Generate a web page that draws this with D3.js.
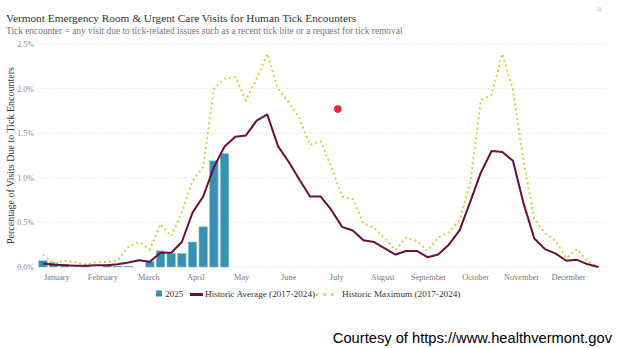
<!DOCTYPE html>
<html>
<head>
<meta charset="utf-8">
<script src="https://cdn.jsdelivr.net/npm/d3@7"></script>
<style>
  body { margin: 0; background: #fff; }
  text { font-family: "Liberation Serif", "DejaVu Serif", serif; }
</style>
</head>
<body>
<div id="chart"></div>
<script>
// Weekly share of ER / urgent care visits for tick encounters (%)
const visits2025 = [0.07, 0.05, 0.03, 0, 0.01, 0, 0.02, 0.01, 0.01, 0,
  0.06, 0.18, 0.15, 0.15, 0.28, 0.45, 1.19, 1.27];

const historicAverage = [0.04, 0.025, 0.02, 0.015, 0.015, 0.02, 0.02, 0.03, 0.05, 0.075,
  0.06, 0.16, 0.16, 0.28, 0.61, 0.79, 1.12, 1.35, 1.46, 1.475,
  1.64, 1.71, 1.355, 1.18, 0.98, 0.79, 0.79, 0.64, 0.45, 0.41,
  0.30, 0.28, 0.21, 0.14, 0.18, 0.18, 0.11, 0.14, 0.25, 0.41,
  0.73, 1.06, 1.30, 1.29, 1.19, 0.71, 0.32, 0.20, 0.15, 0.07,
  0.08, 0.03, 0.0];

const historicMaximum = [0.14, 0.04, 0.07, 0.055, 0.03, 0.055, 0.055, 0.075, 0.23, 0.28,
  0.195, 0.48, 0.345, 0.61, 0.97, 1.12, 2.0, 2.11, 2.13, 1.87,
  2.11, 2.39, 2.0, 1.85, 1.67, 1.37, 1.41, 1.12, 0.79, 0.76,
  0.49, 0.44, 0.32, 0.19, 0.33, 0.29, 0.18, 0.33, 0.39, 0.53,
  0.94, 1.87, 1.93, 2.39, 1.99, 1.18, 0.54, 0.38, 0.29, 0.10,
  0.20, 0.06, 0.0];

const months = ['January', 'February', 'March', 'April', 'May', 'June',
  'July', 'August', 'September', 'October', 'November', 'December'];
const monthWeek = [1.3, 5.6, 9.9, 14.3, 18.6, 23.0, 27.5, 31.8, 36.1, 40.5, 44.8, 49.2];

const yTicks = [0, 0.5, 1.0, 1.5, 2.0, 2.5];

// stray marker seen on the source chart
const marker = [{week: 27.6, value: 1.77}];

const width = 620, height = 348;
const svg = d3.select('#chart').append('svg')
    .attr('width', width)
    .attr('height', height);

const x = d3.scaleLinear()
    .domain([0, 52])
    .range([43, 598.4]);

const y = d3.scaleLinear()
    .domain([0, 2.5])
    .range([267, 44]);

const barW = 8.4;

// title block
svg.append('text')
    .attr('x', 6).attr('y', 22)
    .style('font-size', '11.3px')
    .style('fill', '#333')
    .text('Vermont Emergency Room & Urgent Care Visits for Human Tick Encounters');

svg.append('text')
    .attr('x', 6).attr('y', 34)
    .style('font-size', '9.4px')
    .style('fill', '#777')
    .text('Tick encounter = any visit due to tick-related issues such as a recent tick bite or a request for tick removal');

// small menu glyph top right
svg.append('g')
    .selectAll('line')
    .data([0, 1.4, 2.8])
    .enter().append('line')
      .attr('x1', 597).attr('x2', 602)
      .attr('y1', d => 8 + d).attr('y2', d => 8 + d)
      .style('stroke', '#c8c8c8')
      .style('stroke-width', 0.6);

// horizontal grid + y labels
const yAxis = svg.append('g')
    .attr('class', 'y-axis');

yAxis.selectAll('line')
    .data(yTicks)
    .enter().append('line')
      .attr('x1', 38).attr('x2', 606)
      .attr('y1', d => y(d)).attr('y2', d => y(d))
      .style('stroke', '#d6d6d6')
      .style('stroke-width', 0.8)
      .style('stroke-dasharray', '1,2');

yAxis.selectAll('text')
    .data(yTicks)
    .enter().append('text')
      .attr('x', 34)
      .attr('y', d => y(d) + 3)
      .attr('text-anchor', 'end')
      .style('font-size', '8px')
      .style('fill', '#8a8a8a')
      .text(d => d.toFixed(1) + '%');

svg.append('text')
    .attr('transform', 'translate(14,' + y(1.25) + ') rotate(-90)')
    .attr('text-anchor', 'middle')
    .style('font-size', '10px')
    .style('fill', '#333')
    .text('Percentage of Visits Due to Tick Encounters');

// month labels
svg.append('g')
    .selectAll('text')
    .data(months)
    .enter().append('text')
      .attr('x', (d, i) => x(monthWeek[i]))
      .attr('y', 280)
      .attr('text-anchor', 'middle')
      .style('font-size', '8.3px')
      .style('fill', '#7a7a7a')
      .text(d => d);

// 2025 bars
svg.append('g')
    .selectAll('rect')
    .data(visits2025)
    .enter().append('rect')
      .attr('x', (d, i) => x(i) - barW / 2)
      .attr('y', d => y(d))
      .attr('width', barW)
      .attr('height', d => y(0) - y(d))
      .style('fill', '#3a90b1')
      .style('stroke', '#7dbad0')
      .style('stroke-width', 0.6);

const line = d3.line()
    .x((d, i) => x(i))
    .y(d => y(d));

svg.append('path')
    .datum(historicMaximum)
    .attr('d', line)
    .style('fill', 'none')
    .style('stroke', '#d5d03c')
    .style('stroke-width', 2)
    .style('stroke-dasharray', '2,3');

svg.append('path')
    .datum(historicAverage)
    .attr('d', line)
    .style('fill', 'none')
    .style('stroke', '#6a0f35')
    .style('stroke-width', 2)
    .style('stroke-linejoin', 'round');

svg.append('g')
    .selectAll('circle')
    .data(marker)
    .enter().append('circle')
      .attr('cx', d => x(d.week))
      .attr('cy', d => y(d.value))
      .attr('r', 3.8)
      .style('fill', '#e8252a');

// legend
const legend = svg.append('g')
    .attr('class', 'legend')
    .attr('transform', 'translate(0,294)');

legend.append('rect')
    .attr('x', 156).attr('y', -3.5)
    .attr('width', 6).attr('height', 6)
    .style('fill', '#3a90b1');
legend.append('text')
    .attr('x', 165).attr('y', 3)
    .style('font-size', '9.2px').style('fill', '#333')
    .text('2025');

legend.append('rect')
    .attr('x', 190).attr('y', -1)
    .attr('width', 13).attr('height', 3)
    .style('fill', '#6a0f35');
legend.append('text')
    .attr('x', 205).attr('y', 3)
    .style('font-size', '9.2px').style('fill', '#333')
    .text('Historic Average (2017-2024)');

legend.append('line')
    .attr('x1', 316).attr('x2', 335)
    .attr('y1', 0.5).attr('y2', 0.5)
    .style('stroke', '#d5d03c')
    .style('stroke-width', 2.5)
    .style('stroke-dasharray', '2.5,5');
legend.append('text')
    .attr('x', 342).attr('y', 3)
    .style('font-size', '9.2px').style('fill', '#333')
    .text('Historic Maximum (2017-2024)');

// source credit
svg.append('text')
    .attr('x', 612).attr('y', 343)
    .attr('text-anchor', 'end')
    .style('font-family', '"Liberation Sans", Arial, sans-serif')
    .style('font-size', '14.7px')
    .style('fill', '#000')
    .text('Courtesy of https://www.healthvermont.gov');
</script>
</body>
</html>
